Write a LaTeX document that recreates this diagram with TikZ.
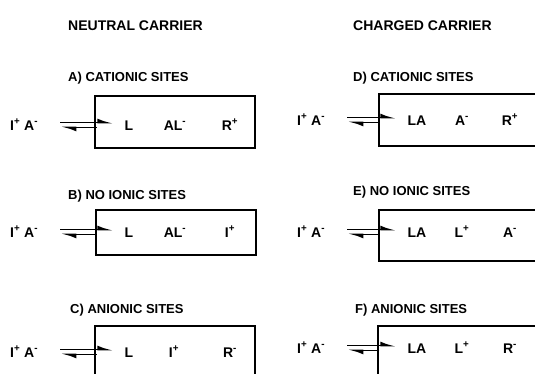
\documentclass[tikz,border=0pt]{standalone}
\usepackage{fontspec}
\setmainfont{Liberation Sans}
\usetikzlibrary{arrows.meta,calc}
\newcommand{\cat}{\textsuperscript{+}}
\newcommand{\an}{\textsuperscript{-}}
\begin{document}
\begin{tikzpicture}[x=1pt,y=-1pt,
  title/.style={anchor=west, inner sep=0pt, text height=10pt, text depth=0pt,
    font=\fontsize{14}{16}\selectfont\bfseries},
  case/.style={anchor=west, inner sep=0pt, text height=9.3pt, text depth=0pt,
    font=\fontsize{13}{15}\selectfont\bfseries},
  species/.style={inner sep=0pt, text height=10pt, text depth=0pt,
    font=\fontsize{14}{16}\selectfont\bfseries},
  pair/.style={species, anchor=west},
  membrane/.style={draw, line width=1.9pt, inner sep=0pt, anchor=north west,
    minimum width=160pt},
  fwd/.style={line width=1.8pt, -{Latex[harpoon,length=12pt,width=8pt]}},
]
\useasboundingbox (0,0) rectangle (535,373);

% column headings
\node[title] (hn) at (68,25) {NEUTRAL CARRIER};
\node[title] (hc) at (353,25) {CHARGED CARRIER};

% case headings
\node[case] (ca) at (68,77)  {A) CATIONIC SITES};
\node[case] (cb) at (68,195) {B) NO IONIC SITES};
\node[case] (cc) at (70,309) {C) ANIONIC SITES};
\node[case] (cd) at (353,77)  {D) CATIONIC SITES};
\node[case] (ce) at (353,191) {E) NO IONIC SITES};
\node[case] (cf) at (355,309) {F) ANIONIC SITES};

% membrane phases (right and lower sides run off the page)
\node[membrane, minimum height=52pt] (ma) at (94,95) {};
\node[membrane, minimum height=45pt] (mb) at (95,209) {};
\node[membrane, minimum height=80pt] (mc) at (94,325) {};
\node[membrane, minimum width=200pt, minimum height=52pt] (md) at (378,93) {};
\node[membrane, minimum width=200pt, minimum height=51pt] (me) at (378,209) {};
\node[membrane, minimum width=200pt, minimum height=80pt] (mf) at (377,325) {};

% aqueous salt
\node[pair] (sa) at (10,125) {I\cat\ A\an};
\node[pair] (sb) at (10,232) {I\cat\ A\an};
\node[pair] (sc) at (10,352) {I\cat\ A\an};
\node[pair] (sd) at (297,120) {I\cat\ A\an};
\node[pair] (se) at (297,232) {I\cat\ A\an};
\node[pair] (sf) at (297,348) {I\cat\ A\an};

% species in the membrane, neutral carrier
\node[species] (la) at (129,125) {L};
\node[species] (xa) at (175,125) {AL\an};
\node[species] (ya) at (230,125) {R\cat};
\node[species] (lb) at (129,232) {L};
\node[species] (xb) at (175,232) {AL\an};
\node[species] (yb) at (230,232) {I\cat};
\node[species] (lc) at (129,352) {L};
\node[species] (xc) at (174,352) {I\cat};
\node[species] (yc) at (230,352) {R\an};

% species in the membrane, charged carrier
\node[species] (ld) at (417,120) {LA};
\node[species] (xd) at (462,120) {A\an};
\node[species] (yd) at (510,120) {R\cat};
\node[species] (le) at (417,232) {LA};
\node[species] (xe) at (462,232) {L\cat};
\node[species] (ye) at (510,232) {A\an};
\node[species] (lf) at (417,348) {LA};
\node[species] (xf) at (462,348) {L\cat};
\node[species] (yf) at (510,348) {R\an};

% extraction equilibria
\foreach \s/\l in {sa/la, sb/lb, sc/lc, sd/ld, se/le, sf/lf}{
  \draw[fwd, shorten <=22pt, shorten >=11pt]
    ([yshift=2.5pt]\s.east) -- ([yshift=2.5pt]\l.west);
  \draw[fwd, shorten <=28pt, shorten >=22pt]
    ([yshift=-2.5pt]\l.west) -- ([yshift=-2.5pt]\s.east);
}
\end{tikzpicture}
\end{document}
